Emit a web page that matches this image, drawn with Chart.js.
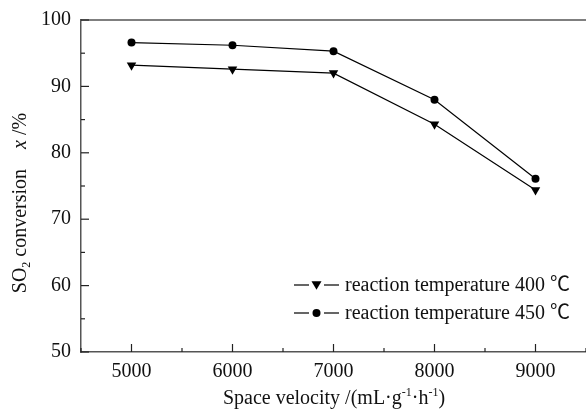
<!DOCTYPE html>
<html><head><meta charset="utf-8">
<script src="https://cdn.jsdelivr.net/npm/chart.js@4.4.0/dist/chart.umd.min.js"></script>
<style>html,body{margin:0;padding:0;background:#fff}#wrap{width:586px;height:410px;position:relative}</style>
</head><body><div id="wrap"><canvas id="c" width="586" height="410"></canvas></div>
<script>
const spaceVelocity = [5000, 6000, 7000, 8000, 9000];
const conv400 = [93.2, 92.6, 92.0, 84.3, 74.4];
const conv450 = [96.6, 96.2, 95.3, 88.0, 76.1];
const seriesNames = ['reaction temperature 400 \u2103', 'reaction temperature 450 \u2103'];
const xTickLabels = [5000, 6000, 7000, 8000, 9000];
const yTickLabels = [50, 60, 70, 80, 90, 100];

const FONT = "'Liberation Serif', 'Times New Roman', serif";
const LEGEND_FONT = "'Liberation Serif', 'Noto Sans CJK SC', serif";
const AX = '#555';

function toPts(xs, ys){ return xs.map((x,i)=>({x:x, y:ys[i]})); }

function drawMarker(ctx, style, x, y){
  ctx.save();
  ctx.fillStyle = '#000';
  ctx.beginPath();
  if (style === 'tri') {
    const r = 5;
    ctx.moveTo(x - r, y - r*0.75);
    ctx.lineTo(x + r, y - r*0.75);
    ctx.lineTo(x, y + r*0.95);
    ctx.closePath();
  } else {
    ctx.arc(x, y, 4, 0, Math.PI*2);
  }
  ctx.fill();
  ctx.restore();
}

function richText(ctx, segs, x, y, align){
  let w = 0;
  segs.forEach(s=>{ ctx.font = s.f; s.w = ctx.measureText(s.t).width; w += s.w; });
  let cx = align === 'center' ? x - w/2 : x;
  segs.forEach(s=>{ ctx.font = s.f; ctx.fillText(s.t, cx, y + (s.dy||0)); cx += s.w; });
}

const customPlugin = {
  id: 'custom',
  afterDatasetsDraw(chart){
    const ctx = chart.ctx;
    const a = chart.chartArea;
    const xs = chart.scales.x, ys = chart.scales.y;
    ctx.save();
    // top border
    ctx.strokeStyle = AX; ctx.lineWidth = 1.5;
    ctx.beginPath(); ctx.moveTo(a.left, a.top); ctx.lineTo(a.right, a.top); ctx.stroke();
    // inward ticks
    ctx.lineWidth = 1.2; ctx.strokeStyle = '#222';
    xs.ticks.forEach(t=>{
      const px = xs.getPixelForValue(t.value);
      const major = xTickLabels.includes(t.value);
      const len = major ? 8 : 4;
      ctx.beginPath(); ctx.moveTo(px, a.bottom); ctx.lineTo(px, a.bottom - len); ctx.stroke();
    });
    ys.ticks.forEach(t=>{
      const py = ys.getPixelForValue(t.value);
      const major = yTickLabels.includes(t.value);
      const len = major ? 8 : 4;
      ctx.beginPath(); ctx.moveTo(a.left, py); ctx.lineTo(a.left + len, py); ctx.stroke();
    });
    // legend
    const styles = ['tri','dot'];
    const rowsY = [285, 313];
    ctx.textBaseline = 'middle';
    chart.data.datasets.forEach((ds, i)=>{
      const y = rowsY[i];
      ctx.strokeStyle = '#000'; ctx.lineWidth = 1.2;
      ctx.beginPath(); ctx.moveTo(294, y); ctx.lineTo(309, y); ctx.stroke();
      ctx.beginPath(); ctx.moveTo(324, y); ctx.lineTo(339, y); ctx.stroke();
      drawMarker(ctx, styles[i], 316.5, y);
      ctx.font = '20px ' + LEGEND_FONT;
      ctx.fillStyle = '#111';
      ctx.fillText(ds.label, 345, y + 1);
    });
    ctx.textBaseline = 'alphabetic';
    ctx.fillStyle = '#111';
    // x title
    const nf = '20px ' + FONT, sf = '12px ' + FONT;
    richText(ctx, [
      {t:'Space velocity /(mL\u00b7g', f:nf},
      {t:'-1', f:sf, dy:-8},
      {t:'\u00b7h', f:nf},
      {t:'-1', f:sf, dy:-8},
      {t:')', f:nf}
    ], 334, 404, 'center');
    // y title
    ctx.translate(26, 203);
    ctx.rotate(-Math.PI/2);
    richText(ctx, [
      {t:'SO', f:nf},
      {t:'2', f:sf, dy:4},
      {t:' conversion    ', f:nf},
      {t:'x', f:'italic 20px ' + FONT},
      {t:' /%', f:nf}
    ], 0, 0, 'center');
    ctx.restore();
  }
};

new Chart(document.getElementById('c'), {
  type: 'line',
  data: {
    datasets: [
      { label: seriesNames[0], data: toPts(spaceVelocity, conv400), borderColor:'#000', borderWidth:1.2,
        pointStyle:'triangle', rotation:180, pointRadius:5.5, pointBackgroundColor:'#000', pointBorderColor:'#000', pointBorderWidth:0, tension:0 },
      { label: seriesNames[1], data: toPts(spaceVelocity, conv450), borderColor:'#000', borderWidth:1.2,
        pointStyle:'circle', pointRadius:4, pointBackgroundColor:'#000', pointBorderColor:'#000', pointBorderWidth:0, tension:0 }
    ]
  },
  options: {
    responsive:false, animation:false, devicePixelRatio:1,
    layout:{ autoPadding:false, padding:{ top:20, right:0, left:0, bottom:0 } },
    plugins:{ legend:{display:false}, tooltip:{enabled:false} },
    scales:{
      x:{ type:'linear', min:4500, max:9500,
        ticks:{ stepSize:500, autoSkip:false, maxRotation:0, padding:8, color:'#111', font:{family:FONT, size:20},
          callback:(v)=> xTickLabels.includes(v) ? String(v) : '' },
        grid:{ display:true, drawOnChartArea:false, drawTicks:false },
        border:{ display:true, color:AX, width:1.5 },
        afterFit:(s)=>{ s.height = 58; s.paddingLeft = 0; s.paddingRight = 0; }
      },
      y:{ min:50, max:100,
        ticks:{ stepSize:5, autoSkip:false, padding:10, color:'#111', font:{family:FONT, size:20},
          callback:(v)=> yTickLabels.includes(v) ? String(v) : '' },
        grid:{ display:true, drawOnChartArea:false, drawTicks:false },
        border:{ display:true, color:AX, width:1.5 },
        afterFit:(s)=>{ s.width = 81; s.paddingTop = 0; s.paddingBottom = 0; }
      }
    }
  },
  plugins:[customPlugin]
});
</script></body></html>
